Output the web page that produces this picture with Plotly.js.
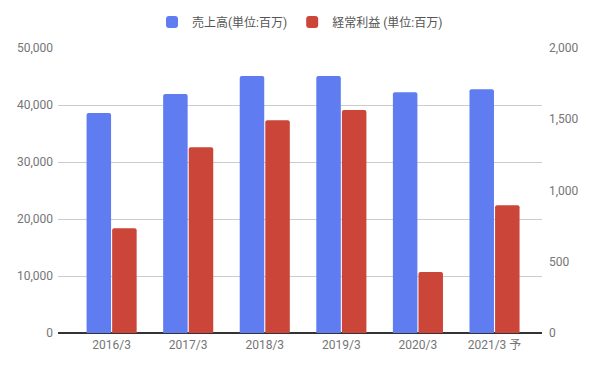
<!DOCTYPE html>
<html>
<head>
<meta charset="utf-8">
<script src="https://cdn.plot.ly/plotly-3.0.1.min.js"></script>
<style>html,body{margin:0;padding:0;background:#fff;}#chart{width:594px;height:368px;}</style>
</head>
<body>
<div id="chart"></div>
<script>
const categories = ["2016/3", "2017/3", "2018/3", "2019/3", "2020/3", "2021/3 予"];
const salesName = "売上高(単位:百万)";
const profitName = "経常利益 (単位:百万)";
const sales = [38600, 41950, 45100, 45100, 42250, 42750];
const profit = [735, 1303, 1493, 1565, 428, 896];
const leftTicks = [0, 10000, 20000, 30000, 40000, 50000];
const leftTickText = ["0", "10,000", "20,000", "30,000", "40,000", "50,000"];
const rightTicks = [0, 500, 1000, 1500, 2000];
const rightTickText = ["0", "500", "1,000", "1,500", "2,000"];

const font = {family: "Roboto, 'Noto Sans CJK JP', sans-serif", size: 12, color: "#757575"};

const traces = [
  {
    type: "bar", name: salesName, x: categories, y: sales, yaxis: "y",
    width: 0.32, offset: -0.327,
    marker: {color: "#5f7cf1", cornerradius: 2},
    hoverinfo: "skip"
  },
  {
    type: "bar", name: profitName, x: categories, y: profit, yaxis: "y2",
    width: 0.32, offset: 0.007,
    marker: {color: "#cc4539", cornerradius: 2},
    hoverinfo: "skip"
  }
];

const layout = {
  width: 594, height: 368,
  margin: {l: 58, r: 52, t: 48, b: 35},
  paper_bgcolor: "#fff", plot_bgcolor: "#fff",
  font: font,
  showlegend: true,
  legend: {orientation: "h", x: 0.5, xanchor: "center", y: 0.94, yanchor: "middle",
           yref: "container", itemwidth: 30,
           font: {family: font.family, size: 12, color: "#555"}},
  xaxis: {
    type: "category", range: [-0.70, 5.62],
    showgrid: false, zeroline: false, showline: false, ticks: "",
    ticklabelstandoff: 3,
    tickfont: {family: font.family, size: 12, color: "#757575"}
  },
  yaxis: {
    range: [0, 50000], tickvals: leftTicks, ticktext: leftTickText,
    showgrid: true, gridcolor: "#cccccc", gridwidth: 1,
    zeroline: true, zerolinecolor: "#333333", zerolinewidth: 1.5,
    ticks: "", ticklabelstandoff: 4,
    tickfont: {family: font.family, size: 12, color: "#757575"}
  },
  yaxis2: {
    overlaying: "y", side: "right", range: [0, 2000],
    tickvals: rightTicks, ticktext: rightTickText,
    showgrid: false, zeroline: false, ticks: "", ticklabelstandoff: 6,
    tickfont: {family: font.family, size: 12, color: "#757575"}
  },
  bargap: 0.36
};

Plotly.newPlot("chart", traces, layout, {displayModeBar: false, staticPlot: true});
</script>
</body>
</html>
